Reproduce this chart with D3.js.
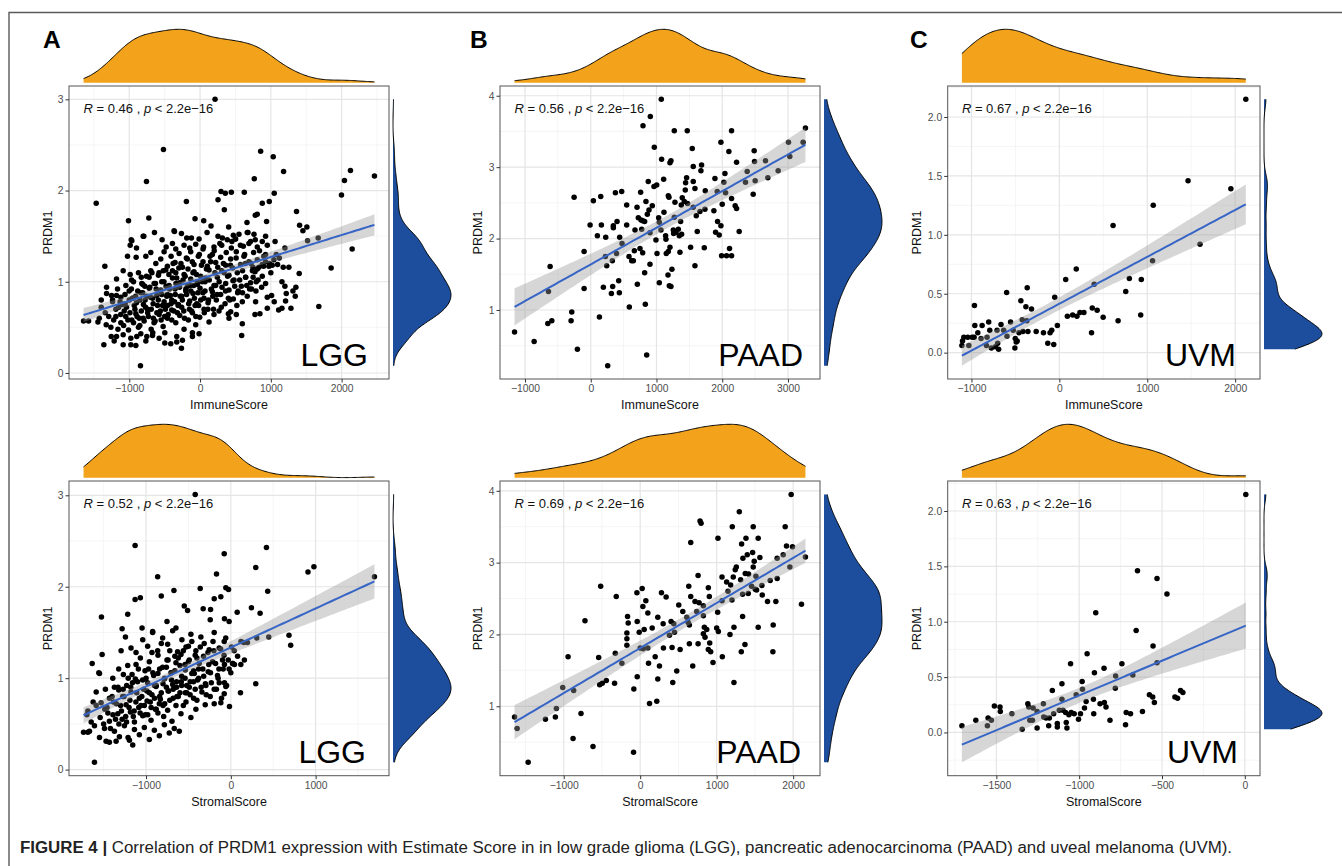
<!DOCTYPE html>
<html>
<head>
<meta charset="utf-8">
<script src="https://cdn.jsdelivr.net/npm/d3@7"></script>
<style>
  body { margin: 0; background: #fff; }
  svg { display: block; font-family: "Liberation Sans", Arial, Helvetica, sans-serif; }
</style>
</head>
<body>
<svg id="fig" width="1342" height="866"></svg>
<script>
// ---------------------------------------------------------------
// Samples: [score, PRDM1 expression]
// ---------------------------------------------------------------
const lggImmune = [
  [212,3.00],[-517,2.45],[856,2.43],[1034,2.37],[1180,2.21],[2464,2.16],[2125,2.22],[2040,2.11],[1998,1.95],[-757,2.10],
  [766,2.13],[-1467,1.86],[-193,1.88],[296,1.99],[357,1.97],[442,1.98],[625,1.98],[1048,1.97],[978,1.88],[879,1.86],
  [254,1.90],[343,1.79],[1363,1.77],[-1011,1.67],[-724,1.70],[-71,1.69],[52,1.67],[663,1.65],[780,1.73],[808,1.74],
  [940,1.66],[1406,1.62],[1453,1.56],[1509,1.60],[1669,1.48],[1519,1.45],[2149,1.36],[1852,1.15],[1678,0.73],[1401,1.09],
  [1354,0.94],[1312,0.90],[1345,0.84],[1284,0.71],[1208,0.79],[1157,0.71],[1110,0.69],[1199,0.95],[1218,0.87],[1157,1.00],
  [1175,1.16],[1255,1.16],[1199,1.37],[1077,1.30],[1095,1.19],[973,1.17],[898,1.17],[1048,0.78],[950,0.71],[1011,0.85],
  [926,0.98],[950,0.83],[846,0.65],[776,0.64],[785,0.78],[790,0.90],[588,0.41],[597,0.54],[512,0.64],[433,0.67],
  [400,0.65],[644,1.05],[757,1.32],[762,1.52],[677,1.54],[550,1.52],[498,1.47],[470,1.51],[404,1.60],[315,1.48],
  [155,1.61],[99,1.54],[-14,1.47],[-122,1.48],[-263,1.53],[-367,1.56],[-536,1.46],[-644,1.54],[-795,1.50],[-973,1.46],
  [-987,1.40],[-898,1.37],[-1025,1.28],[-903,1.27],[-766,1.28],[-1086,1.12],[-1345,1.17],[-1180,1.03],[-1321,0.94],[-1396,0.72],
  [-1326,0.53],[-1443,0.56],[-1359,0.31],[-1180,0.40],[-1086,0.31],[-978,0.31],[-842,0.08],[-894,0.40],[-752,0.40],[-668,0.44],
  [-498,0.33],[-329,0.34],[-263,0.27],[-108,0.44],[-14,0.43],[-1646,0.57],[-1575,0.57],[-1255,0.40],
  [-964,1.45],[-804,1.50],[-479,1.38],[-390,1.42],[-362,1.55],[-343,1.36],[-226,1.40],[-188,1.48],[-146,1.37],[-61,1.41],
  [42,1.36],[197,1.38],[254,1.50],[306,1.40],[385,1.46],[442,1.37],[503,1.47],[611,1.39],[667,1.54],[714,1.44],
  [808,1.38],[879,1.44],[926,1.50],
  [-968,1.02],[-823,0.98],[-696,1.32],[-625,1.20],[-555,1.25],[-508,1.33],[-461,1.17],[-409,1.28],[-353,1.21],[-296,1.31],
  [-249,1.16],[-193,1.26],[-132,1.33],[-85,1.19],[-24,1.28],[42,1.22],[103,1.17],[174,1.30],[221,1.21],[291,1.27],
  [362,1.18],[432,1.25],[512,1.33],[573,1.19],[620,1.28],[691,1.22],[747,1.16],[808,1.24],[879,1.19],[926,1.30],
  [982,1.20],[1043,1.24],
  [-1236,0.80],[-1180,0.85],[-1048,0.96],[-987,1.08],[-940,1.00],[-870,1.10],[-808,0.97],[-757,1.06],[-696,1.12],[-649,0.98],
  [-588,1.07],[-541,1.00],[-484,1.13],[-437,0.96],[-390,1.04],[-343,1.10],[-287,0.99],[-226,1.08],[-179,0.95],[-132,1.03],
  [-85,1.11],[-38,0.97],[9,1.06],[71,1.00],[127,1.13],[197,0.96],[244,1.05],[306,1.12],[362,0.98],[409,1.07],
  [465,1.01],[526,1.10],[583,0.95],[644,1.05],[714,0.99],[776,1.11],[832,1.16],[926,1.22],[1020,1.18],
  [-1396,0.80],[-1321,0.87],[-1236,0.78],[-1166,0.92],[-1119,0.83],[-1058,0.76],[-1001,0.90],[-954,0.82],[-898,0.77],[-837,0.88],
  [-776,0.80],[-719,0.93],[-663,0.76],[-611,0.85],[-555,0.91],[-508,0.78],[-461,0.86],[-400,0.80],[-353,0.92],[-306,0.75],
  [-259,0.84],[-202,0.90],[-146,0.79],[-99,0.87],[-47,0.76],[0,0.93],[56,0.82],[113,0.77],[174,0.89],[230,0.80],
  [291,0.86],[353,0.76],[409,0.91],[470,0.81],[531,0.88],[597,0.78],[667,0.84],[728,0.92],[794,1.00],[879,1.06],
  [-1424,0.60],[-1340,0.66],[-1260,0.50],[-1189,0.62],[-1119,0.55],[-1072,0.68],[-1011,0.47],[-964,0.58],[-907,0.65],[-851,0.52],
  [-804,0.60],[-743,0.70],[-691,0.48],[-635,0.57],[-578,0.64],[-522,0.51],[-461,0.60],[-400,0.69],[-343,0.55],[-287,0.63],
  [-226,0.48],[-165,0.58],[-108,0.66],[-61,0.53],[-5,0.61],[56,0.70],[127,0.56],[197,0.64],[268,0.68],[409,0.60],
  [-1213,0.35],[-1086,0.42],[-978,0.38],[-907,0.30],[-837,0.43],[-766,0.35],[-672,0.41],[-578,0.38],[-498,0.44],[-414,0.32],
  [-329,0.40],[-249,0.36],[-108,0.40],
  [-1150,0.72],[-1100,0.75],[-1050,0.62],[-1000,0.80],[-950,0.82],[-920,0.70],[-880,0.90],[-860,0.60],[-830,1.05],[-800,0.75],
  [-780,0.95],[-740,0.66],[-720,1.05],[-700,0.83],[-680,1.10],[-660,0.60],[-620,0.92],[-600,0.74],[-580,1.10],[-560,0.68],
  [-540,0.86],[-520,1.12],[-500,0.62],[-480,0.95],[-460,0.74],[-440,1.08],[-420,0.85],[-400,0.58],[-380,1.20],[-360,0.78],
  [-340,0.98],[-320,0.66],[-300,1.15],[-280,0.84],[-260,0.72],[-240,1.02],[-220,0.60],[-200,0.92],[-180,1.25],[-160,0.76],
  [-140,0.96],[-120,0.68],[-100,1.10],[-80,0.82],[-60,0.62],[-40,1.00],[-20,0.74],[20,1.18],[40,0.88],[60,0.66],
  [80,1.04],[120,0.80],[140,1.28],[160,0.92],[190,0.70],[210,1.10],[240,0.86],[270,1.00],[300,0.72],[330,1.20],
  [360,0.90],[390,1.06],[420,0.80],[460,1.15],[490,0.95],[520,0.74],[560,1.02],[600,0.88],[640,1.20],[700,0.92],
  [740,1.12],[820,1.02],
  [-1290,0.62],[-1250,0.85],[-1220,0.58],[-1190,0.70],[-1160,0.48],[-1130,0.78],[-1120,0.64],[-1080,0.52],[-1060,0.86],[-1040,0.72],
  [-1020,0.58],[-990,0.66],[-970,0.92],[-940,0.55],[-930,0.74],[-910,0.84],[-890,0.62],[-870,0.50],[-850,0.80],[-830,0.68],
  [-810,0.88],[-790,0.57],[-770,0.72],[-750,0.84],[-730,0.62],[-710,0.94],[-690,0.70],[-670,0.82],[-650,0.55],[-630,0.98],
  [-610,0.66],[-590,0.80],[-570,0.90],[-550,0.58],[-530,0.74],[-510,1.00],[-490,0.70],[-470,0.84],[-450,0.64],[-430,0.92],
  [-410,0.76],[-390,1.12],[-370,0.68],[-350,0.86],[-330,1.04],[-310,0.74],[-290,0.94],[-270,1.20],[-250,0.80],[-230,0.68],
  [-210,1.06],[-190,0.86],[-170,1.14],[-150,0.70],[-130,0.90],[-110,1.22],[-90,0.96],[-70,0.74],[-50,1.08],[-30,0.88],
  [-10,1.30],[10,0.80],[30,1.00],[50,1.38],[70,0.90],[90,1.14],[110,0.70],[130,1.02],[150,1.22],[180,0.84],
  [200,1.34],[220,0.96],[250,1.16],[280,1.42],[310,0.94],[340,1.10],[370,1.32],[400,0.82],[430,1.18],[450,1.44],
  [480,1.02],[510,1.26],[540,0.90],[570,1.40],[600,1.12],[630,1.30],[660,0.96],[690,1.42],[720,1.20],[750,1.05],
  [780,1.46],[810,1.14],[840,1.34],[870,0.94],[900,1.28],[950,1.40],[1000,1.10],[1060,1.44],[1120,1.26]
];

const lggStromal = [
  [-420,3.01],[-1129,2.45],[420,2.43],[-78,2.36],[294,2.21],[980,2.22],[910,2.16],[1694,2.11],[-863,2.11],[-169,2.14],
  [-59,1.99],[-27,1.97],[-361,1.98],[-671,1.96],[-820,1.90],[-1129,1.86],[-1067,1.88],[435,1.95],[-196,1.87],[-118,1.89],
  [-549,1.79],[-326,1.76],[-239,1.75],[-510,1.74],[243,1.77],[345,1.71],[75,1.72],[-1216,1.70],[-1526,1.67],[-243,1.64],
  [-75,1.65],[-20,1.62],[-753,1.62],[-647,1.55],[-1047,1.55],[-922,1.51],[-1282,1.54],[686,1.47],[706,1.36],[447,1.45],
  [306,1.44],[196,1.39],[153,1.39],[8,1.34],[-75,1.15],[24,1.16],[43,1.15],[118,1.15],[-75,0.95],[-59,0.91],
  [114,0.84],[-16,0.69],[-118,0.73],[-196,0.72],[-302,0.71],[294,0.94],[-608,0.42],[-1157,0.27],[-1608,0.08],[-1737,0.41],
  [-1686,0.41],[-1635,1.16],[-1518,1.26],[-1557,1.06],[-1624,0.74],[-1686,0.64],[-1471,0.31],[-1353,0.31],[-1212,0.35],
  [-1294,1.30],[-1243,1.45],[-1177,1.33],[-1118,1.28],[-1039,1.42],[-981,1.35],[-922,1.50],[-863,1.30],[-804,1.44],[-745,1.37],
  [-686,1.52],[-628,1.29],[-577,1.42],[-529,1.34],[-471,1.48],[-412,1.30],[-353,1.45],[-314,1.38],[-255,1.31],[-196,1.50],
  [-137,1.33],[-78,1.40],
  [-1549,1.05],[-1392,1.00],[-1322,1.10],[-1267,1.04],[-1216,1.14],[-1165,1.04],[-1118,1.15],[-1067,1.22],[-1012,1.08],[-961,1.18],
  [-910,1.03],[-859,1.25],[-804,1.12],[-753,1.20],[-706,1.06],[-647,1.17],[-588,1.26],[-537,1.09],[-490,1.20],[-431,1.05],
  [-373,1.16],[-322,1.24],[-267,1.07],[-216,1.18],[-157,1.03],[-98,1.20],
  [-1588,0.85],[-1530,0.73],[-1479,0.88],[-1432,0.78],[-1373,0.90],[-1322,0.87],[-1275,0.80],[-1228,0.92],[-1177,0.85],[-1126,0.99],
  [-1079,0.78],[-1028,0.88],[-981,0.95],[-930,0.82],[-882,0.91],[-831,0.77],[-784,0.99],[-733,0.86],[-686,0.93],[-635,0.80],
  [-584,0.96],[-537,0.84],[-490,0.90],[-439,0.78],[-392,0.98],[-341,0.85],[-294,0.92],[-243,0.80],[-196,0.88],[-137,0.95],
  [-78,0.83],
  [-1698,0.60],[-1647,0.52],[-1588,0.70],[-1541,0.57],[-1486,0.66],[-1432,0.53],[-1384,0.74],[-1333,0.61],[-1282,0.55],[-1235,0.71],
  [-1184,0.63],[-1137,0.52],[-1086,0.68],[-1039,0.59],[-988,0.75],[-941,0.54],[-890,0.66],[-843,0.72],[-792,0.58],[-745,0.65],
  [-694,0.53],[-647,0.70],[-588,0.61],[-529,0.74],[-471,0.57],[-412,0.66],
  [-1667,0.42],[-1608,0.48],[-1549,0.35],[-1490,0.45],[-1432,0.30],[-1373,0.42],[-1314,0.36],[-1255,0.48],[-1196,0.32],[-1137,0.44],
  [-1079,0.38],[-1020,0.46],[-961,0.33],[-902,0.43],[-843,0.37],[-784,0.49],[-726,0.40],[-667,0.45],
  [-1450,0.62],[-1400,0.80],[-1360,0.55],[-1330,0.90],[-1300,0.70],[-1270,0.88],[-1240,0.58],[-1210,1.00],[-1190,0.76],[-1160,0.95],
  [-1140,0.64],[-1110,0.84],[-1090,1.10],[-1060,0.70],[-1040,0.98],[-1010,0.60],[-990,0.86],[-970,1.10],[-950,0.74],[-930,1.28],
  [-900,0.92],[-880,0.66],[-860,1.05],[-840,0.80],[-820,1.38],[-800,0.94],[-780,0.72],[-760,1.12],[-740,0.86],[-720,1.30],
  [-700,0.98],[-680,0.78],[-660,1.08],[-640,0.90],[-620,1.22],[-600,0.84],[-580,1.02],[-560,0.70],[-540,1.15],[-520,0.92],
  [-500,1.35],[-480,0.82],[-460,1.05],[-440,0.96],[-420,1.25],[-400,0.76],[-380,1.10],[-350,0.90],[-320,1.02],[-290,0.82],
  [-260,1.15],[-230,0.95],[-200,1.30],[-170,0.88],[-140,1.10],[-110,0.78],[-80,1.25],[-50,0.92],[-20,1.10],[20,1.16],
  [-1500,0.50],[-1460,0.68],[-1420,0.45],[-1390,0.60],[-1350,0.72],[-1320,0.50],[-1290,0.64],[-1260,0.80],[-1230,0.52],[-1200,0.68],
  [-1180,0.90],[-1150,0.58],[-1120,0.74],[-1100,0.96],[-1070,0.62],[-1050,0.80],[-1020,0.70],[-1000,1.00],[-980,0.60],[-960,0.84],
  [-940,0.68],[-920,1.06],[-900,0.78],[-880,0.92],[-860,0.62],[-840,1.10],[-820,0.84],[-800,0.70],[-780,1.00],[-760,0.90],
  [-740,1.20],[-720,0.76],[-700,1.06],[-680,0.88],[-660,1.24],[-640,0.96],[-620,0.80],[-600,1.14],[-580,0.92],[-560,1.30],
  [-540,1.00],[-520,0.84],[-500,1.18],[-480,0.96],[-460,1.40],[-440,1.08],[-420,0.88],[-400,1.22],[-380,1.00],[-360,1.34],
  [-330,1.10],[-300,0.94],[-270,1.28],[-240,1.06],[-210,1.40],[-180,1.16],[-150,1.00],[-120,1.32],[-90,1.10],[-60,1.44],
  [-30,1.20],[0,1.06],[40,1.30],[80,1.24],[120,1.40],[160,1.20]
];

const paadImmune = [
  [3266,3.55],[3230,3.35],[3008,3.35],[3028,3.15],[2851,2.95],[2694,2.85],[2658,3.09],[2501,2.81],[2491,3.08],[2486,3.23],
  [2380,2.94],[2354,2.79],[2471,2.62],[2142,3.51],[1980,3.35],[2101,3.22],[2218,3.07],[2041,2.91],[1889,2.84],[1924,2.66],
  [2025,2.79],[2051,2.64],[2000,2.48],[2142,2.56],[2197,2.46],[2218,2.42],[2258,2.10],[1929,2.24],[1980,2.18],[1899,2.09],
  [1954,2.05],[2111,1.86],[1990,1.76],[2066,1.76],[2142,1.76],[1873,2.39],[1742,2.67],[1737,2.41],[1686,3.03],[1676,2.95],
  [1559,3.01],[1544,3.26],[1559,2.80],[1585,2.70],[1468,3.51],[1458,2.85],[1443,2.78],[1438,2.68],[1473,2.49],[1423,2.52],
  [1559,2.44],[1605,2.32],[1661,2.38],[1620,2.10],[1585,1.62],[1727,1.87],[1519,1.88],[1392,2.57],[1377,2.47],[1367,2.24],
  [1332,2.13],[1296,2.09],[1347,2.04],[1382,2.06],[1256,2.12],[1271,2.30],[1281,2.51],[1190,2.58],[1180,2.60],[1220,3.09],
  [1205,3.06],[1271,3.51],[1078,3.11],[967,3.28],[1109,2.83],[1003,2.75],[962,2.73],[875,2.80],[840,2.52],[936,2.46],
  [886,2.40],[861,2.34],[765,2.26],[790,2.25],[820,2.24],[759,2.65],[704,2.44],[547,2.47],[471,2.66],[375,2.64],
  [724,2.29],[673,2.12],[547,2.19],[582,1.75],[623,1.69],[648,1.69],[663,1.83],[749,1.86],[790,1.80],[775,2.13],
  [901,2.08],[901,1.64],[820,1.52],[709,1.36],[830,1.08],[851,0.37],[587,1.04],[425,1.41],[435,1.24],[314,1.23],
  [334,1.33],[192,1.32],[243,1.62],[223,1.75],[329,1.69],[392,1.79],[476,1.93],[440,2.02],[400,2.24],[344,2.18],
  [344,2.15],[228,2.02],[162,2.19],[101,2.04],[-10,2.19],[-101,1.82],[-101,1.30],[40,2.53],[152,2.59],[-253,2.58],
  [-289,0.97],[-299,0.85],[132,0.90],[-203,0.45],[258,0.22],[-592,0.85],[-653,0.81],[-643,1.26],[-618,1.61],[-861,0.56],
  [-1159,0.69],[1033,2.29],[1043,2.23],[1068,2.12],[1139,2.04],[1144,1.99],[992,1.98],[1008,1.79],[1149,1.79],[1180,1.82],
  [1205,1.88],[1195,1.34],[1220,1.33],[1235,1.57],[1175,1.49],[1043,1.38],[1357,1.81],[795,3.58],[906,3.71],[1073,3.95],
  [1261,2.07],[1114,2.37]
];

const paadStromal = [
  [1974,3.95],[1296,3.71],[783,3.58],[796,3.55],[1204,3.50],[1478,3.50],[1896,3.50],[1017,3.34],[1383,3.34],[1543,3.34],
  [661,3.28],[1326,3.26],[1913,3.23],[1991,3.22],[1470,3.14],[1400,3.11],[1343,3.06],[1565,3.07],[1491,3.02],[1791,3.06],
  [1870,3.11],[2161,3.08],[1957,2.94],[1478,2.94],[1257,2.94],[1243,2.90],[1374,2.85],[1417,2.84],[1217,2.80],[1070,2.80],
  [757,2.82],[1130,2.73],[1183,2.69],[1313,2.76],[1513,2.81],[1339,2.56],[1413,2.57],[1504,2.63],[1522,2.62],[1591,2.68],
  [1700,2.75],[1791,2.78],[1774,2.46],[1665,2.46],[1596,2.55],[1457,2.67],[1200,2.48],[1148,2.60],[1070,2.47],[1013,2.31],
  [1000,2.09],[1022,2.04],[1074,1.69],[1174,2.00],[1226,2.10],[1339,2.25],[1370,1.86],[1322,1.76],[1226,1.33],[1543,2.10],
  [1739,2.13],[1735,1.76],[2109,2.42],[891,2.65],[904,2.53],[826,2.40],[770,2.44],[717,2.46],[661,2.53],[635,2.67],
  [739,2.32],[826,2.26],[839,2.10],[826,2.01],[848,1.96],[870,2.07],[909,1.88],[891,1.79],[922,1.76],[952,1.61],
  [757,1.87],[687,1.56],[643,1.87],[643,2.13],[626,2.17],[609,2.24],[557,2.32],[504,2.41],[439,2.15],[404,2.18],
  [448,2.03],[383,1.99],[417,1.82],[522,1.79],[478,1.49],[426,1.33],[304,1.81],[252,1.56],[230,1.38],[217,1.07],
  [122,1.04],[109,1.60],[196,1.69],[230,2.24],[278,2.58],[339,2.52],[300,2.15],[157,2.09],[100,2.30],[74,2.47],
  [35,2.39],[26,2.64],[-43,2.58],[-39,2.18],[-13,2.03],[52,2.07],[0,1.81],[39,1.80],[100,1.81],[-39,1.41],
  [-83,1.24],[-87,0.36],[-165,2.25],[-157,2.16],[-174,2.02],[-174,1.94],[-174,1.85],[-239,1.60],[-313,2.53],[-326,1.74],
  [-335,1.32],[-443,1.36],[-496,1.32],[-530,1.30],[-543,1.68],[-517,2.67],[-617,0.44],[-722,2.19],[-774,0.90],[-870,1.22],
  [-878,0.55],[-943,1.69],[-1013,1.26],[-1096,0.97],[-1109,0.85],[-1239,0.82],[-1465,0.22],[-1609,0.69],[-1643,0.85]
];

const uvmImmune = [
  [2121,2.15],[1464,1.46],[1951,1.39],[1068,1.25],[611,1.08],[1600,0.92],[1060,0.78],[192,0.71],[72,0.62],[796,0.63],
  [932,0.62],[396,0.58],[755,0.52],[-600,0.51],[-366,0.55],[-53,0.47],[-438,0.44],[-381,0.39],[-317,0.37],[-966,0.40],
  [374,0.38],[430,0.36],[925,0.32],[91,0.31],[151,0.32],[200,0.31],[234,0.34],[279,0.34],[498,0.30],[668,0.27],
  [366,0.17],[-23,0.23],[-87,0.19],[-106,0.17],[-132,0.08],[-64,0.07],[-181,0.17],[-264,0.18],[-358,0.18],[-415,0.18],
  [-423,0.28],[-370,0.27],[-502,0.12],[-491,0.09],[-506,0.04],[-525,0.19],[-555,0.26],[-596,0.14],[-634,0.19],[-664,0.24],
  [-709,0.19],[-702,0.08],[-691,0.03],[-728,0.05],[-774,0.04],[-823,0.13],[-804,0.26],[-792,0.19],[-830,0.06],[-879,0.23],
  [-891,0.12],[-928,0.17],[-962,0.23],[-970,0.13],[-992,0.13],[-1030,0.06],[-1042,0.13],[-1087,0.13],[-1102,0.10],[-1109,0.06],
  [-460,0.17],[-480,0.10]
];

const uvmStromal = [
  [6,2.15],[-648,1.46],[-530,1.39],[-470,1.25],[-900,1.08],[-656,0.92],[-554,0.78],[-952,0.71],[-1052,0.62],[-850,0.58],
  [-742,0.62],[-908,0.54],[-780,0.51],[-676,0.52],[-530,0.63],[-982,0.46],[-1104,0.44],[-782,0.40],[-980,0.39],[-1162,0.38],
  [-1018,0.34],[-1104,0.30],[-914,0.30],[-958,0.28],[-874,0.26],[-848,0.27],[-838,0.23],[-576,0.34],[-556,0.32],[-546,0.27],
  [-422,0.32],[-406,0.31],[-388,0.38],[-374,0.36],[-618,0.19],[-716,0.18],[-690,0.17],[-720,0.07],[-814,0.11],[-912,0.17],
  [-968,0.22],[-992,0.17],[-1004,0.12],[-1030,0.17],[-1048,0.18],[-1062,0.16],[-1082,0.18],[-1098,0.20],[-1120,0.20],[-1078,0.09],
  [-1074,0.04],[-1132,0.08],[-1132,0.05],[-1154,0.17],[-1180,0.13],[-1200,0.13],[-1214,0.14],[-1184,0.06],[-1216,0.26],[-1254,0.04],
  [-1282,0.11],[-1298,0.11],[-1278,0.22],[-1254,0.19],[-1310,0.26],[-1304,0.23],[-1344,0.03],[-1406,0.17],[-1476,0.19],[-1478,0.23],
  [-1512,0.24],[-1530,0.11],[-1550,0.13],[-1554,0.06],[-1624,0.11],[-1708,0.06]
];

// Correlation annotations and labels
const corrR = ["0.46", "0.56", "0.67", "0.52", "0.69", "0.63"];
const corrP = "2.2e\u221216";
const cohorts = ["LGG", "PAAD", "UVM"];
const scoreNames = ["ImmuneScore", "StromalScore"];
const yTitle = "PRDM1";
const panelLetters = ["A", "B", "C"];

// Axis breaks
const xTicksImmune = [[-1000, 0, 1000, 2000], [-1000, 0, 1000, 2000, 3000], [-1000, 0, 1000, 2000]];
const xTicksStromal = [[-1000, 0, 1000], [-1000, 0, 1000, 2000], [-1500, -1000, -500, 0]];
const yTicksCohort = [[0, 1, 2, 3], [1, 2, 3, 4], [0, 0.5, 1, 1.5, 2]];

const captionBold = "FIGURE 4 |";
const captionText = " Correlation of PRDM1 expression with Estimate Score in in low grade glioma (LGG), pancreatic adenocarcinoma (PAAD) and uveal melanoma (UVM).";

// ---------------------------------------------------------------
// Layout
// ---------------------------------------------------------------
const cols = [
  { x0: 69, x1: 389, letterX: 43, yTitleX: 47.7 },
  { x0: 500, x1: 820, letterX: 470, yTitleX: 477.7 },
  { x0: 947.7, x1: 1260, letterX: 910, yTitleX: 916.7 }
];
const rows = [
  { y0: 86, y1: 379, densBase: 82.7, densPeak: 29.3 },
  { y0: 481, y1: 775.7, densBase: 477.7, densPeak: 424.3 }
];
const tagInset = [[21, 17, 24], [23, 19, 22]];

const panels = [
  { row: 0, col: 0, data: lggImmune,   r: corrR[0], xt: xTicksImmune[0],  yt: yTicksCohort[0] },
  { row: 0, col: 1, data: paadImmune,  r: corrR[1], xt: xTicksImmune[1],  yt: yTicksCohort[1] },
  { row: 0, col: 2, data: uvmImmune,   r: corrR[2], xt: xTicksImmune[2],  yt: yTicksCohort[2] },
  { row: 1, col: 0, data: lggStromal,  r: corrR[3], xt: xTicksStromal[0], yt: yTicksCohort[0] },
  { row: 1, col: 1, data: paadStromal, r: corrR[4], xt: xTicksStromal[1], yt: yTicksCohort[1] },
  { row: 1, col: 2, data: uvmStromal,  r: corrR[5], xt: xTicksStromal[2], yt: yTicksCohort[2] }
];

const ORANGE = "#F2A31B";
const BLUE = "#1D4E9E";
const FIT = "#3765C6";

const svg = d3.select("#fig");
svg.append("rect").attr("width", 1342).attr("height", 866).attr("fill", "#fff");

// Outer frame (top and left rules)
svg.append("path").attr("d", "M9,866V12.5H1342")
  .attr("fill", "none").attr("stroke", "#5a5a5a").attr("stroke-width", 1.4);

// ---------------------------------------------------------------
// Statistics helpers
// ---------------------------------------------------------------
function tQuant975(df) {
  return 1.959964 + 2.372 / df + 2.82 / (df * df) + 2.56 / (df * df * df);
}

function linearFit(pts, xmin, xmax) {
  const n = pts.length;
  const mx = d3.mean(pts, d => d[0]), my = d3.mean(pts, d => d[1]);
  let sxx = 0, sxy = 0;
  pts.forEach(d => { sxx += (d[0] - mx) ** 2; sxy += (d[0] - mx) * (d[1] - my); });
  const b = sxy / sxx, a = my - b * mx;
  let sse = 0;
  pts.forEach(d => { sse += (d[1] - a - b * d[0]) ** 2; });
  const s2 = sse / (n - 2);
  const t = tQuant975(n - 2);
  const out = [];
  const m = 80;
  for (let i = 0; i < m; i++) {
    const x = xmin + (xmax - xmin) * i / (m - 1);
    const fit = a + b * x;
    const se = Math.sqrt(s2 * (1 / n + (x - mx) ** 2 / sxx));
    out.push({ x, fit, lo: fit - t * se, hi: fit + t * se });
  }
  return out;
}

function bwNrd0(v) {
  const s = v.slice().sort(d3.ascending);
  const sd = d3.deviation(s);
  const iqr = d3.quantile(s, 0.75) - d3.quantile(s, 0.25);
  let lo = Math.min(sd, iqr / 1.34);
  if (!(lo > 0)) lo = sd || 1;
  return 0.9 * lo * Math.pow(s.length, -0.2);
}

function kde(v, lo, hi) {
  const bw = bwNrd0(v);
  const n = v.length, m = 256, out = [];
  const c = 1 / (n * bw * Math.sqrt(2 * Math.PI));
  for (let i = 0; i < m; i++) {
    const x = lo + (hi - lo) * i / (m - 1);
    let s = 0;
    for (let j = 0; j < n; j++) { const u = (x - v[j]) / bw; s += Math.exp(-0.5 * u * u); }
    out.push([x, s * c]);
  }
  return out;
}

function minorBreaks(majors, domain) {
  const step = majors[1] - majors[0];
  const out = [];
  for (let v = majors[0] - step / 2; v <= domain[1]; v += step) {
    if (v >= domain[0] && v <= domain[1]) out.push(v);
  }
  return out;
}

const fmtInt = d3.format("d");
const fmtOne = d3.format(".1f");

// ---------------------------------------------------------------
// Panels
// ---------------------------------------------------------------
panels.forEach((p, idx) => {
  const col = cols[p.col], row = rows[p.row];
  const pts = p.data;
  const xs = pts.map(d => d[0]), ys = pts.map(d => d[1]);
  const [xmin, xmax] = d3.extent(xs);
  const [ymin, ymax] = d3.extent(ys);
  const fit = linearFit(pts, xmin, xmax);
  const yLo = Math.min(ymin, d3.min(fit, d => d.lo));
  const yHi = Math.max(ymax, d3.max(fit, d => d.hi));
  const xPad = (xmax - xmin) * 0.05, yPad = (yHi - yLo) * 0.05;

  const x = d3.scaleLinear().domain([xmin - xPad, xmax + xPad]).range([col.x0, col.x1]);
  const y = d3.scaleLinear().domain([yLo - yPad, yHi + yPad]).range([row.y1, row.y0]);

  const g = svg.append("g");
  const clipId = "clip" + idx;
  g.append("clipPath").attr("id", clipId).append("rect")
    .attr("x", col.x0).attr("y", row.y0).attr("width", col.x1 - col.x0).attr("height", row.y1 - row.y0);

  // grid
  const grid = g.append("g");
  const xMinor = minorBreaks(p.xt, x.domain());
  const yMinor = minorBreaks(p.yt, y.domain());
  grid.selectAll(".vx").data(xMinor).join("line")
    .attr("x1", d => x(d)).attr("x2", d => x(d)).attr("y1", row.y0).attr("y2", row.y1)
    .attr("stroke", "#f0f0f0").attr("stroke-width", 0.7);
  grid.selectAll(".hy").data(yMinor).join("line")
    .attr("y1", d => y(d)).attr("y2", d => y(d)).attr("x1", col.x0).attr("x2", col.x1)
    .attr("stroke", "#f0f0f0").attr("stroke-width", 0.7);
  grid.selectAll(".vX").data(p.xt).join("line")
    .attr("x1", d => x(d)).attr("x2", d => x(d)).attr("y1", row.y0).attr("y2", row.y1)
    .attr("stroke", "#e5e5e5").attr("stroke-width", 1.2);
  grid.selectAll(".hY").data(p.yt).join("line")
    .attr("y1", d => y(d)).attr("y2", d => y(d)).attr("x1", col.x0).attr("x2", col.x1)
    .attr("stroke", "#e5e5e5").attr("stroke-width", 1.2);

  // points
  const plot = g.append("g").attr("clip-path", `url(#${clipId})`);
  plot.selectAll("circle").data(pts).join("circle")
    .attr("cx", d => x(d[0])).attr("cy", d => y(d[1])).attr("r", 2.75).attr("fill", "#000");

  // confidence band and fitted line
  plot.append("path").datum(fit)
    .attr("d", d3.area().x(d => x(d.x)).y0(d => y(d.lo)).y1(d => y(d.hi)))
    .attr("fill", "#999999").attr("fill-opacity", 0.4);
  plot.append("path").datum(fit)
    .attr("d", d3.line().x(d => x(d.x)).y(d => y(d.fit)))
    .attr("fill", "none").attr("stroke", FIT).attr("stroke-width", 2);

  // panel border
  g.append("rect").attr("x", col.x0).attr("y", row.y0)
    .attr("width", col.x1 - col.x0).attr("height", row.y1 - row.y0)
    .attr("fill", "none").attr("stroke", "#555").attr("stroke-width", 1);

  // axes
  const yFmt = p.col === 2 ? fmtOne : fmtInt;
  const xAxis = d3.axisBottom(x).tickValues(p.xt).tickSize(3.5).tickPadding(2.5).tickFormat(fmtInt);
  const yAxis = d3.axisLeft(y).tickValues(p.yt).tickSize(3.5).tickPadding(2).tickFormat(yFmt);
  const gx = g.append("g").attr("transform", `translate(0,${row.y1})`).call(xAxis);
  const gy = g.append("g").attr("transform", `translate(${col.x0},0)`).call(yAxis);
  [gx, gy].forEach(a => {
    a.select(".domain").remove();
    a.selectAll("line").attr("stroke", "#333");
    a.selectAll("text").attr("fill", "#4d4d4d").attr("font-size", 10.3)
      .attr("font-family", "Liberation Sans, Arial, sans-serif");
  });

  // axis titles
  g.append("text").attr("x", (col.x0 + col.x1) / 2).attr("y", row.y1 + 30)
    .attr("text-anchor", "middle").attr("font-size", 12.5).attr("fill", "#111")
    .text(scoreNames[p.row]);
  g.append("text")
    .attr("transform", `translate(${col.yTitleX + 4.3},${(row.y0 + row.y1) / 2}) rotate(-90)`)
    .attr("text-anchor", "middle").attr("font-size", 12.5).attr("fill", "#111")
    .text(yTitle);

  // correlation label
  const lab = g.append("text").attr("x", x(xmin)).attr("y", y(ymax) + 14)
    .attr("font-size", 13).attr("fill", "#111");
  lab.append("tspan").attr("font-style", "italic").text("R");
  lab.append("tspan").text(" = " + p.r + " , ");
  lab.append("tspan").attr("font-style", "italic").text("p");
  lab.append("tspan").text(" < " + corrP);

  // cohort tag
  g.append("text").attr("x", col.x1 - tagInset[p.row][p.col]).attr("y", row.y1 - 13)
    .attr("text-anchor", "end").attr("font-size", 32).attr("fill", "#000")
    .text(cohorts[p.col]);

  // top marginal density (score)
  const dX = kde(xs, xmin, xmax);
  const hX = d3.scaleLinear().domain([0, d3.max(dX, d => d[1])]).range([row.densBase, row.densPeak]);
  g.append("path").datum(dX)
    .attr("d", d3.area().x(d => x(d[0])).y0(row.densBase).y1(d => hX(d[1])).curve(d3.curveBasis))
    .attr("fill", ORANGE);
  g.append("path").datum(dX)
    .attr("d", d3.line().x(d => x(d[0])).y(d => hX(d[1])).curve(d3.curveBasis))
    .attr("fill", "none").attr("stroke", "#000").attr("stroke-width", 1);

  // right marginal density (PRDM1)
  const dY = kde(ys, ymin, ymax);
  const wY = d3.scaleLinear().domain([0, d3.max(dY, d => d[1])]).range([col.x1 + 4, col.x1 + 62]);
  g.append("path").datum(dY)
    .attr("d", d3.area().y(d => y(d[0])).x0(col.x1 + 4).x1(d => wY(d[1])).curve(d3.curveBasis))
    .attr("fill", BLUE);
  g.append("path").datum(dY)
    .attr("d", d3.line().y(d => y(d[0])).x(d => wY(d[1])).curve(d3.curveBasis))
    .attr("fill", "none").attr("stroke", "#000").attr("stroke-width", 1);
});

// panel letters
cols.forEach((c, i) => {
  svg.append("text").attr("x", c.letterX).attr("y", 48.3)
    .attr("font-size", 24.5).attr("font-weight", "bold").attr("fill", "#000")
    .text(panelLetters[i]);
});

// caption
const cap = svg.append("text").attr("x", 20).attr("y", 853)
  .attr("font-size", 16).attr("fill", "#222")
  .attr("textLength", 1212).attr("lengthAdjust", "spacingAndGlyphs");
cap.append("tspan").attr("font-weight", "bold").text(captionBold);
cap.append("tspan").text(captionText);
</script>
</body>
</html>
